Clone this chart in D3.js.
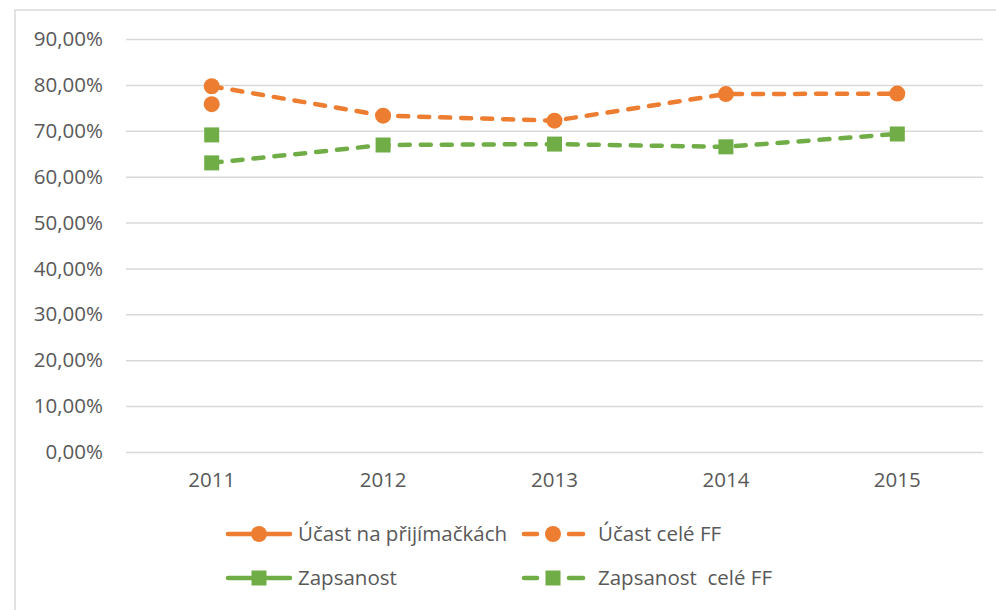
<!DOCTYPE html>
<html>
<head>
<meta charset="utf-8">
<script src="https://cdn.jsdelivr.net/npm/d3@7"></script>
<style>
  body { margin: 0; background: #fff; }
  text { font-family: "Open Sans", sans-serif; fill: #595959; }
</style>
</head>
<body>
<div id="chart"></div>
<script>
// data
const years = ["2011", "2012", "2013", "2014", "2015"];
const ucastPrijimacky = [0.758, null, null, null, null];
const ucastFF = [0.797, 0.733, 0.722, 0.780, 0.781];
const zapsanost = [0.691, null, null, null, null];
const zapsanostFF = [0.630, 0.669, 0.671, 0.665, 0.693];
const yTicks = [0, 0.1, 0.2, 0.3, 0.4, 0.5, 0.6, 0.7, 0.8, 0.9];

const series = [
  { name: "Účast na přijímačkách", values: ucastPrijimacky, color: "#ED7D31", dashed: false, marker: "circle" },
  { name: "Účast celé FF", values: ucastFF, color: "#ED7D31", dashed: true, marker: "circle" },
  { name: "Zapsanost", values: zapsanost, color: "#70AD47", dashed: false, marker: "square" },
  { name: "Zapsanost  celé FF", values: zapsanostFF, color: "#70AD47", dashed: true, marker: "square" }
];

const width = 996, height = 610;
const margin = { top: 39, left: 126, right: 13, bottom: 158 };
const plotW = width - margin.left - margin.right;
const plotH = height - margin.top - margin.bottom;
const fontSize = "20.5px";

const svg = d3.select("#chart")
  .append("svg")
  .attr("width", width)
  .attr("height", height);

// chart frame
svg.append("path")
  .attr("d", `M15,${height} V10 H${width}`)
  .attr("fill", "none")
  .attr("stroke", "#d9d9d9")
  .attr("stroke-width", 1.5);

const g = svg.append("g")
  .attr("transform", `translate(${margin.left}, ${margin.top})`);

const x = d3.scaleBand().domain(years).range([0, plotW]);
const y = d3.scaleLinear().domain([0, 0.9]).range([plotH, 0]);
const fmt = v => d3.format(".2f")(v * 100).replace(".", ",") + "%";

// y axis with gridlines
const yAxis = g.append("g")
  .call(d3.axisLeft(y).tickValues(yTicks).tickSize(-plotW).tickPadding(23).tickFormat(fmt));
yAxis.select(".domain").remove();
yAxis.selectAll(".tick line").attr("stroke", "#d9d9d9").attr("stroke-width", 1.5);
yAxis.selectAll(".tick text").style("font-size", fontSize).attr("fill", "#595959");

// x axis
const xAxis = g.append("g")
  .attr("transform", `translate(0, ${plotH})`)
  .call(d3.axisBottom(x).tickSize(0).tickPadding(20));
xAxis.select(".domain").remove();
xAxis.selectAll(".tick text").style("font-size", fontSize).attr("fill", "#595959");

const cx = i => x(years[i]) + x.bandwidth() / 2;

const line = d3.line()
  .defined(d => d != null)
  .x((d, i) => cx(i))
  .y(d => y(d));

function drawMarker(sel, type, color, px, py) {
  if (type === "circle") {
    sel.append("circle").attr("cx", px).attr("cy", py).attr("r", 8).attr("fill", color);
  } else {
    sel.append("rect").attr("x", px - 7.5).attr("y", py - 7.5)
      .attr("width", 15).attr("height", 15).attr("fill", color);
  }
}

series.forEach(s => {
  g.append("path")
    .datum(s.values)
    .attr("d", line)
    .attr("fill", "none")
    .attr("stroke", s.color)
    .attr("stroke-width", 4.5)
    .attr("stroke-linecap", "round")
    .attr("stroke-dasharray", s.dashed ? "10 11" : null);
  s.values.forEach((v, i) => {
    if (v != null) drawMarker(g, s.marker, s.color, cx(i), y(v));
  });
});

// legend
const legendPos = [[228, 534], [522, 534], [228, 578], [522, 578]];
series.forEach((s, i) => {
  const [lx, ly] = legendPos[i];
  const lg = svg.append("g");
  const segs = s.dashed ? [[lx + 2, lx + 15], [lx + 47, lx + 61]] : [[lx, lx + 62]];
  segs.forEach(([a, b]) => {
    lg.append("line")
      .attr("x1", a).attr("x2", b)
      .attr("y1", ly).attr("y2", ly)
      .attr("stroke", s.color)
      .attr("stroke-width", 4.5)
      .attr("stroke-linecap", "round");
  });
  drawMarker(lg, s.marker, s.color, lx + 31, ly);
  lg.append("text")
    .attr("x", s.dashed ? lx + 76 : lx + 70)
    .attr("y", ly)
    .attr("dy", "0.35em")
    .style("font-size", fontSize)
    .style("white-space", "pre")
    .text(s.name);
});
</script>
</body>
</html>
